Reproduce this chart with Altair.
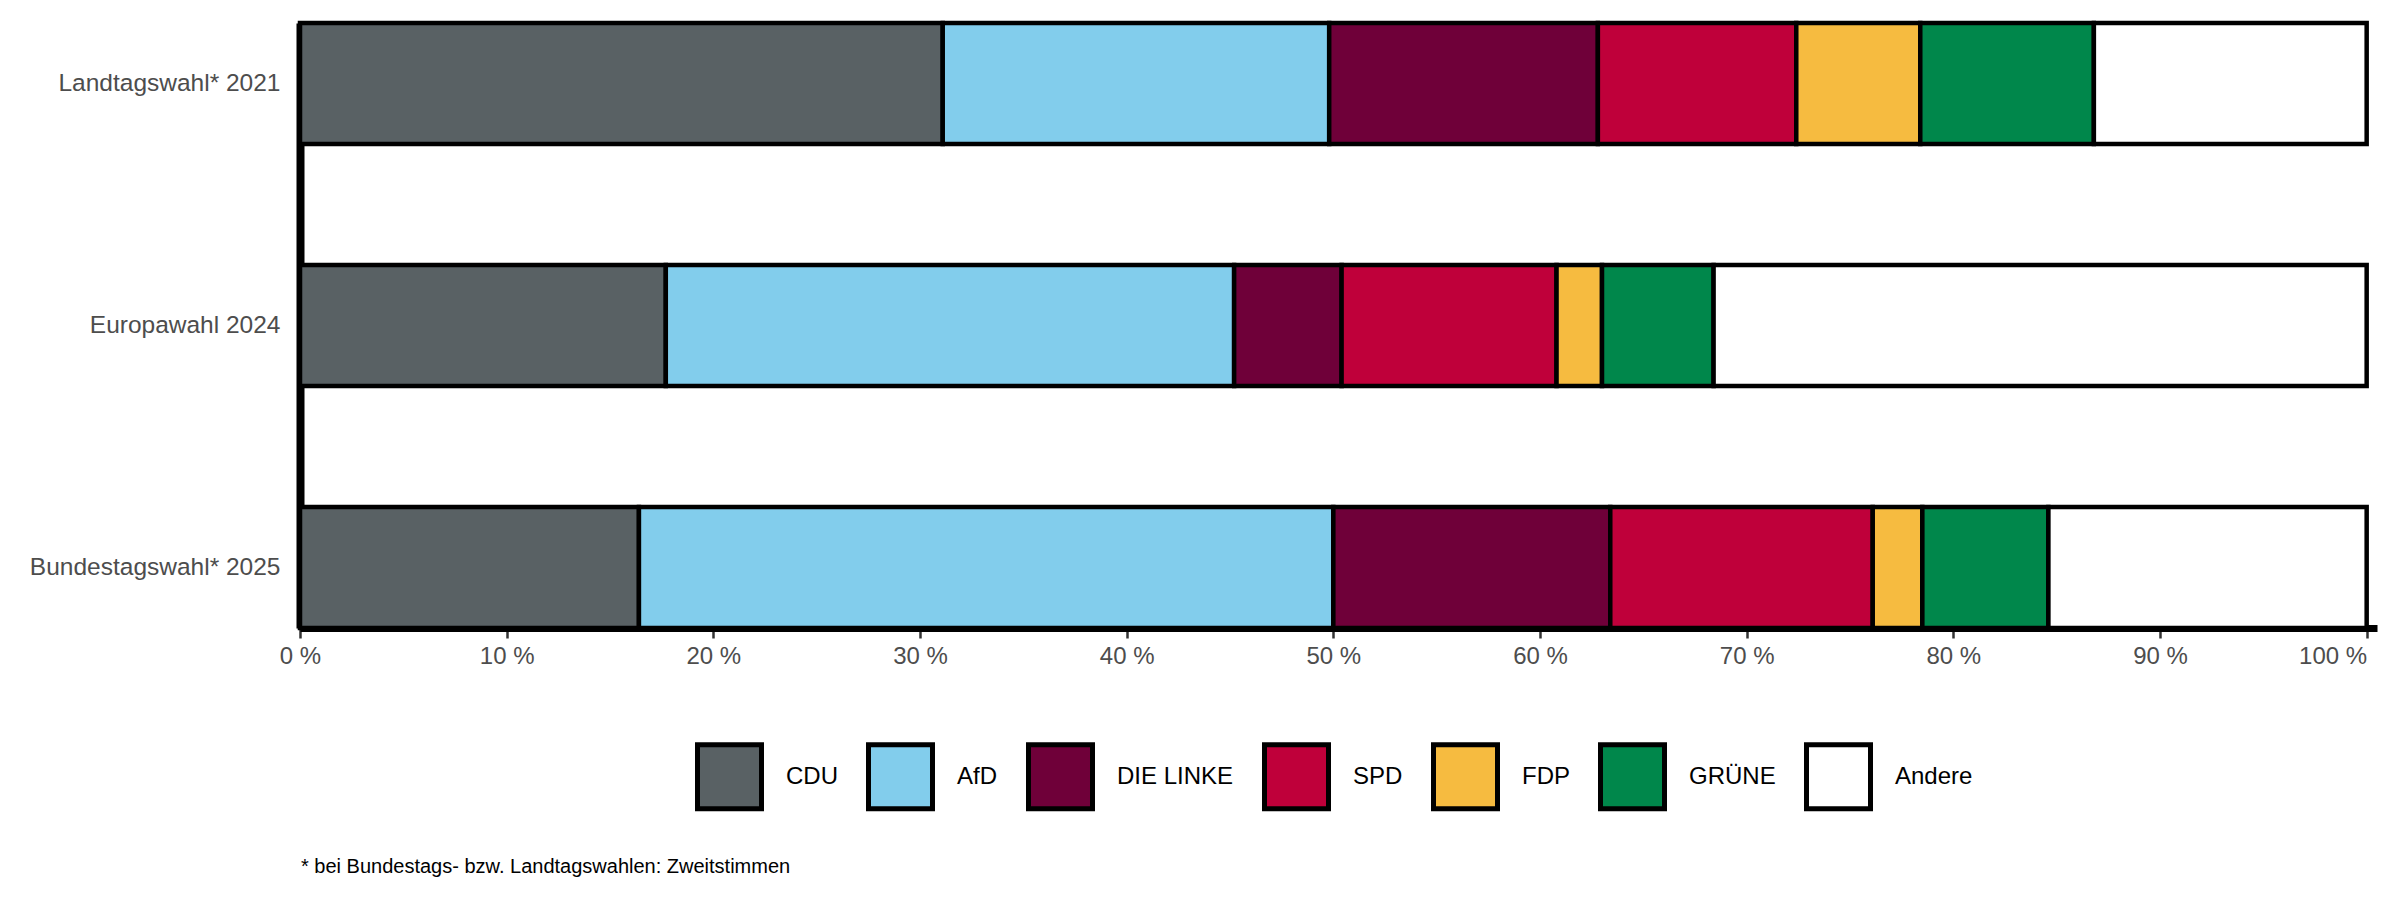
import altair as alt
import pandas as pd

elections = ["Landtagswahl* 2021", "Europawahl 2024", "Bundestagswahl* 2025"]
parties = ["CDU", "AfD", "DIE LINKE", "SPD", "FDP", "GRÜNE", "Andere"]
colors = ["#596164", "#82cdec", "#6f0039", "#bf003a", "#f6bb40", "#00874b", "#ffffff"]

landtag_2021 = [31.1, 18.7, 13.0, 9.6, 6.0, 8.4, 13.2]
europa_2024 = [17.7, 27.5, 5.2, 10.4, 2.2, 5.4, 31.6]
bundestag_2025 = [16.4, 33.6, 13.4, 12.7, 2.4, 6.1, 15.4]

x_ticks = [0, 10, 20, 30, 40, 50, 60, 70, 80, 90, 100]
footnote = "* bei Bundestags- bzw. Landtagswahlen: Zweitstimmen"

FONT = "Liberation Sans"

rows = []
for e, vals in zip(elections, [landtag_2021, europa_2024, bundestag_2025]):
    for i, (p, v) in enumerate(zip(parties, vals)):
        rows.append({"Wahl": e, "Partei": p, "Anteil": v, "idx": i})
df = pd.DataFrame(rows)

bars = alt.Chart(df).mark_bar(stroke="black", strokeWidth=4.5).encode(
    x=alt.X(
        "Anteil:Q",
        stack="zero",
        scale=alt.Scale(domain=[0, 100.5], nice=False, zero=True),
        axis=alt.Axis(
            values=x_ticks,
            labelExpr="datum.value + ' %'",
            labelAlign={"expr": "datum.value == 100 ? 'right' : 'center'"},
            title=None,
            grid=False,
            domainColor="black",
            domainWidth=7,
            tickColor="#333333",
            tickWidth=2.5,
            tickSize=10,
            labelFontSize=24,
            labelColor="#4d4d4d",
            labelFont=FONT,
            labelPadding=6,
            labelFlush=False,
            labelOverlap=False,
        ),
    ),
    y=alt.Y(
        "Wahl:N",
        sort=elections,
        scale=alt.Scale(paddingInner=0.5, paddingOuter=0),
        axis=alt.Axis(
            title=None,
            ticks=False,
            domainColor="black",
            domainWidth=8,
            labelFontSize=24.5,
            labelColor="#4d4d4d",
            labelFont=FONT,
            labelPadding=20,
            labelLimit=0,
        ),
    ),
    color=alt.Color(
        "Partei:N",
        scale=alt.Scale(domain=parties, range=colors),
        legend=alt.Legend(
            title=None,
            orient="none",
            direction="horizontal",
            legendX=395,
            legendY=719,
            symbolType="square",
            symbolSize=4096,
            symbolStrokeColor="black",
            symbolStrokeWidth=5,
            symbolOpacity=1,
            labelFontSize=24,
            labelColor="black",
            labelFont=FONT,
            labelOffset=22,
            columnPadding=20,
            padding=0,
        ),
    ),
    order=alt.Order("idx:Q"),
)

note = alt.Chart(pd.DataFrame({"t": [footnote]})).mark_text(
    align="left", baseline="middle", fontSize=20, font=FONT, color="black"
).encode(
    x=alt.value(1),
    y=alt.value(844),
    text="t:N",
)

chart = alt.layer(bars, note).properties(
    width=2077,
    height=605,
    autosize=alt.AutoSizeParams(type="none"),
    padding={"left": 292, "top": 15, "right": 15, "bottom": 264},
    background="white",
).configure_view(strokeWidth=0)

chart.save("out.html", embed_options={"renderer": "svg", "actions": False})
